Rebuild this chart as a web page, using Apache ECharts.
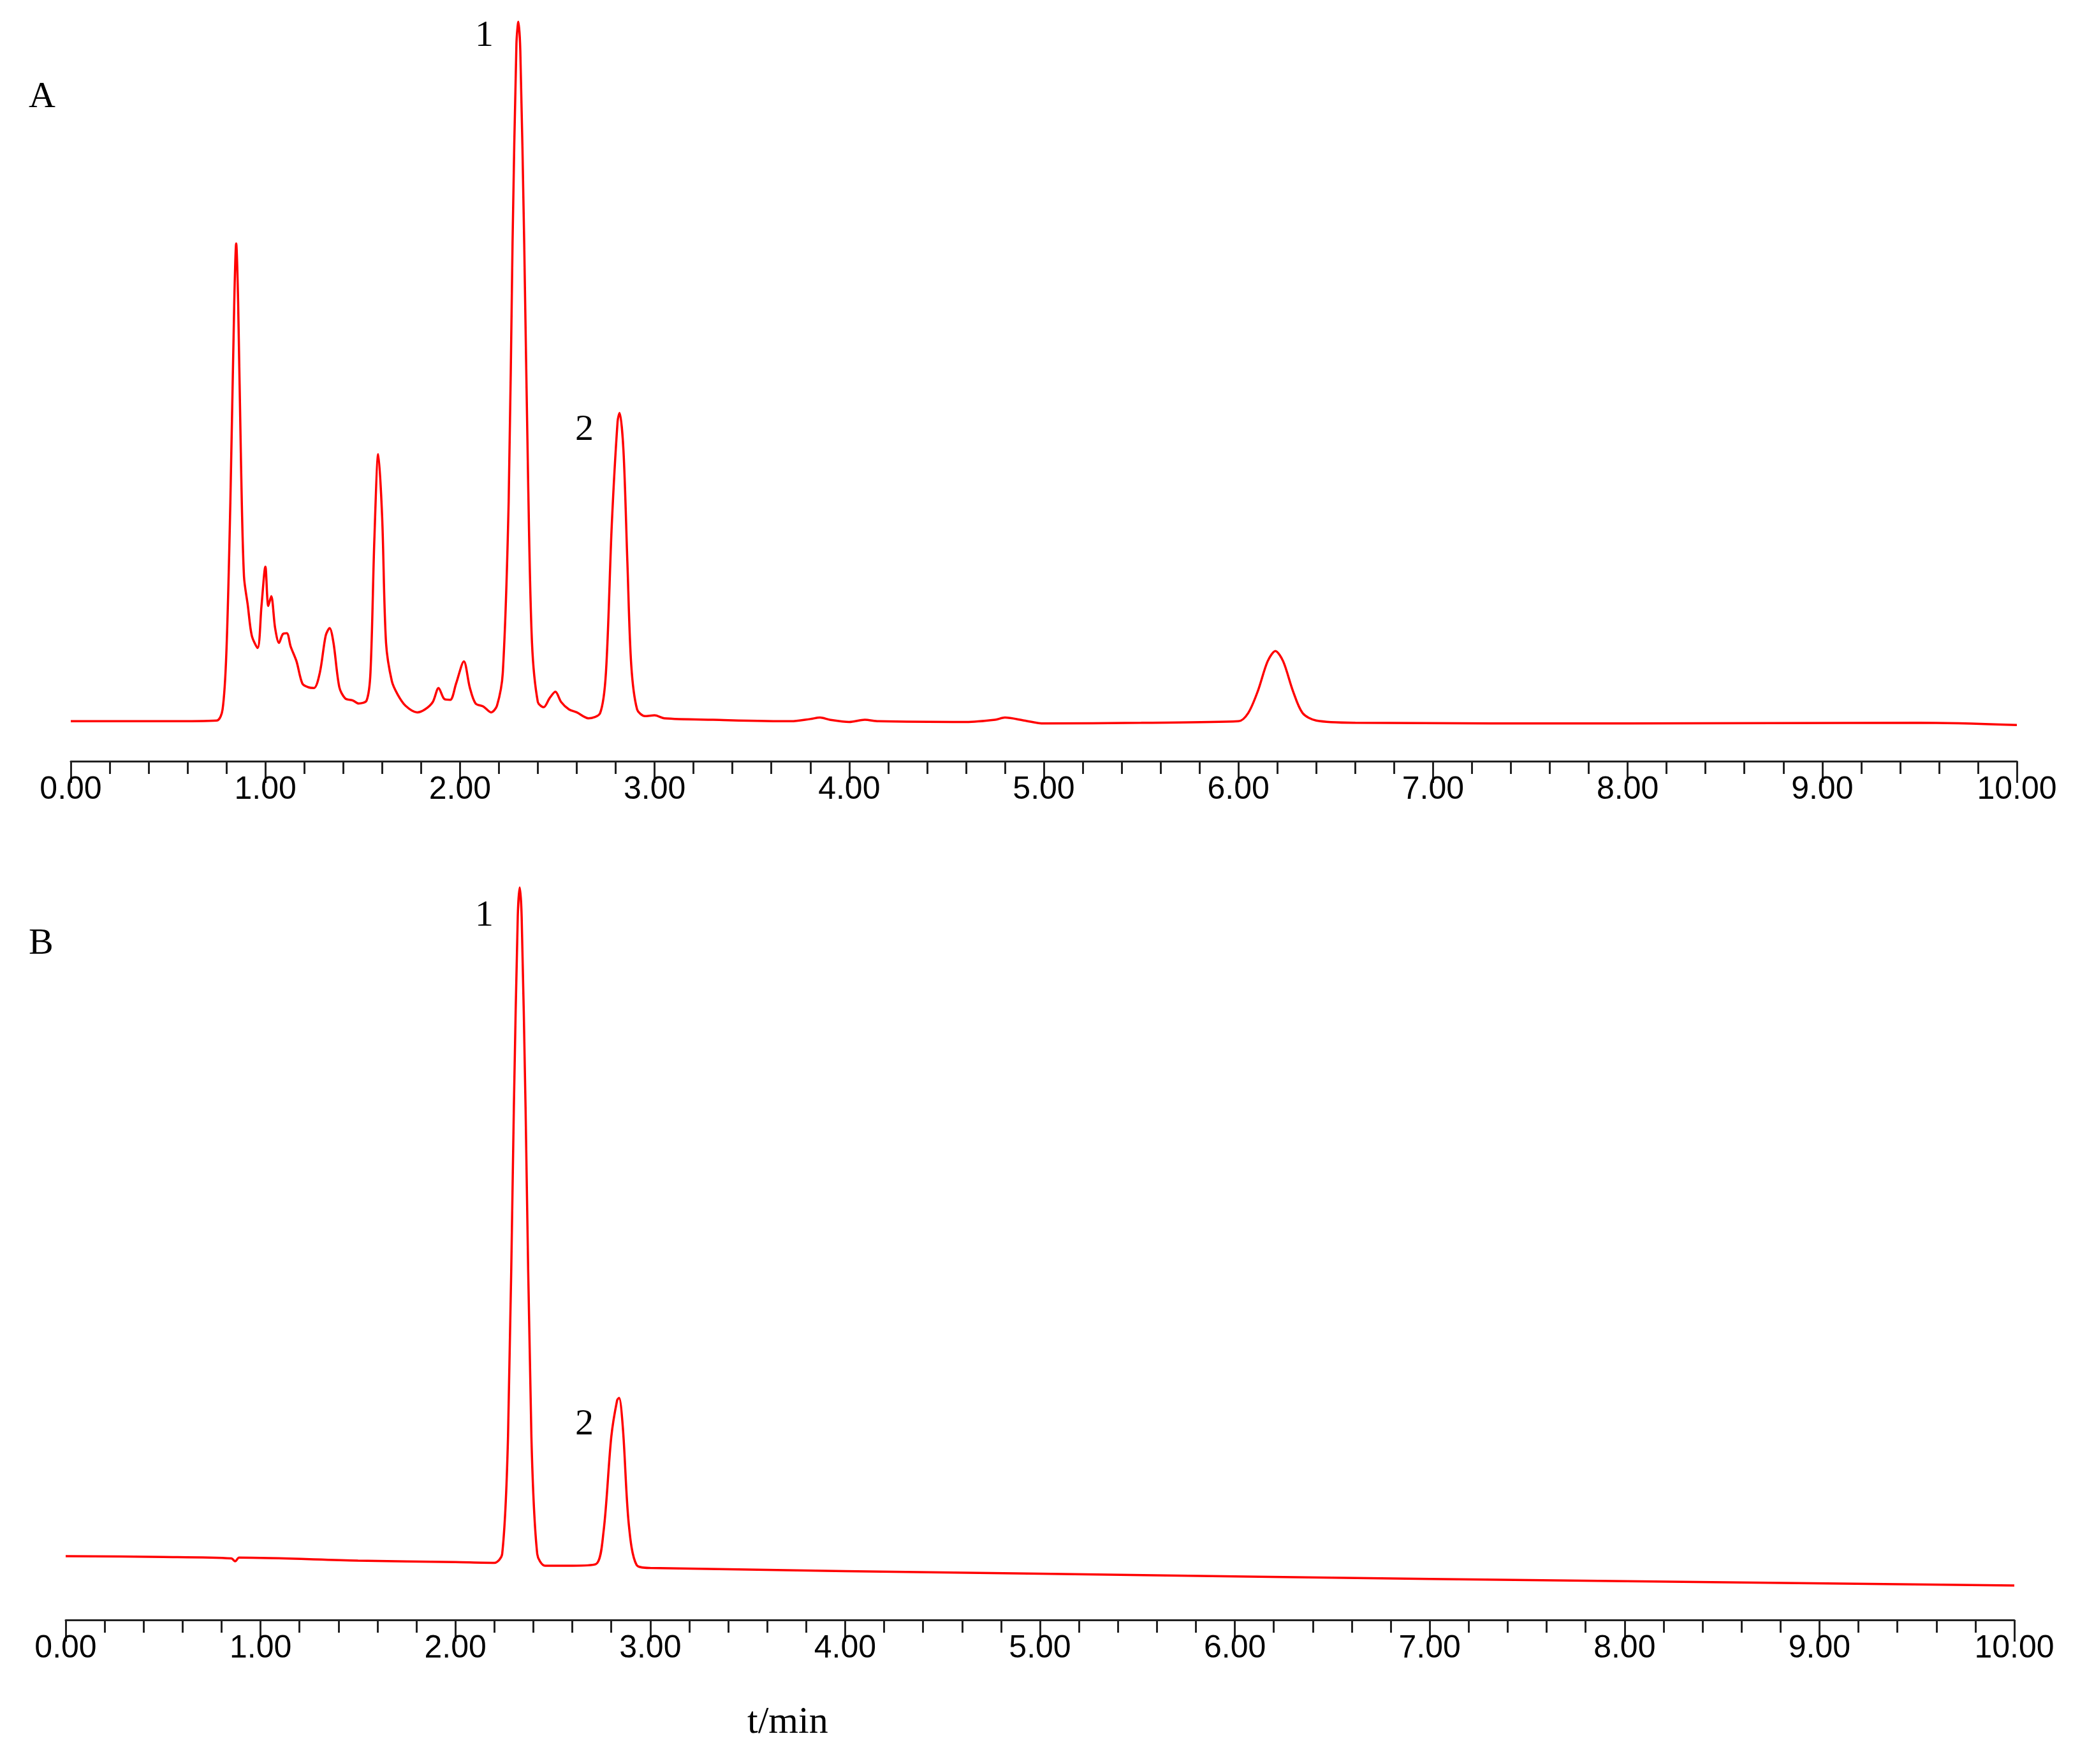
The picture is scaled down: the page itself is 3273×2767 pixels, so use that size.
<!DOCTYPE html>
<html>
<head>
<meta charset="utf-8">
<script src="https://cdn.jsdelivr.net/npm/echarts@6/dist/echarts.min.js"></script>
<style>html,body{margin:0;background:#fff}#chart{width:3273px;height:2767px}</style>
</head>
<body>
<div id="chart"></div>
<script>
// chromatogram A (sample): [time min, signal]
const traceA = [
  [0.00,5.4],[0.50,5.4],[0.75,5.5],[0.78,7],[0.80,15],[0.82,35],[0.84,62],[0.85,70],[0.86,62],[0.875,40],
  [0.89,25],[0.91,21],[0.93,17],[0.96,15.3],[0.98,21],[1.00,26.3],[1.015,21],[1.03,22.3],[1.05,18],[1.07,16],
  [1.09,17.2],[1.11,17.3],[1.13,15.5],[1.16,13.5],[1.19,10.5],[1.22,10],[1.25,9.9],[1.28,12],[1.31,17],[1.33,18],
  [1.35,16],[1.38,10],[1.41,8.5],[1.45,8.2],[1.48,7.8],[1.52,8.2],[1.54,12],[1.56,30],[1.58,41.5],[1.60,33],
  [1.62,16],[1.65,10.8],[1.68,9],[1.72,7.5],[1.78,6.6],[1.82,7],[1.86,8],[1.89,9.9],[1.92,8.4],[1.95,8.3],
  [1.98,10.5],[2.02,13.5],[2.05,10],[2.08,7.8],[2.12,7.4],[2.16,6.6],[2.19,7.5],[2.22,12],[2.25,35],[2.27,70],
  [2.29,97],[2.30,100],[2.31,96],[2.33,70],[2.35,38],[2.37,16],[2.40,8],[2.43,7.3],[2.46,8.5],[2.49,9.4],
  [2.52,8],[2.56,7],[2.60,6.6],[2.66,5.8],[2.72,6.5],[2.75,12],[2.78,32],[2.81,46],[2.82,47.1],[2.84,42],
  [2.86,27],[2.88,13],[2.91,7],[2.95,6.1],[3.00,6.2],[3.05,5.8],[3.30,5.6],[3.70,5.4],[3.80,5.7],[3.85,5.9],
  [3.90,5.6],[4.00,5.3],[4.08,5.6],[4.15,5.4],[4.60,5.3],[4.75,5.6],[4.80,5.9],[4.90,5.5],[5.00,5.1],[5.50,5.2],
  [6.00,5.4],[6.05,6.5],[6.10,9.5],[6.15,13.5],[6.19,14.9],[6.23,13.5],[6.28,9.5],[6.33,6.5],[6.40,5.5],[6.60,5.2],
  [8.00,5.1],[9.50,5.2],[10.00,4.9]
];
// chromatogram B (reference standards)
const traceB = [
  [0.00,8.7],[0.50,8.6],[0.85,8.4],[0.87,8.0],[0.89,8.5],[1.50,8.1],[2.00,7.9],[2.20,7.8],[2.24,9],[2.27,25],
  [2.30,70],[2.32,96],[2.33,100],[2.34,96],[2.36,70],[2.39,25],[2.42,9],[2.46,7.4],[2.60,7.4],[2.72,7.6],
  [2.76,12],[2.80,25],[2.83,30],[2.84,30.3],[2.86,26],[2.89,13],[2.93,7.5],[3.00,7.1],[5.00,6.3],[7.00,5.6],
  [10.00,4.7]
];

const chart = echarts.init(document.getElementById('chart'));
const serif = '"Liberation Serif", "DejaVu Serif", serif';
const xAxisBase = (gridIndex) => ({
  type: 'value', gridIndex, min: 0, max: 10, interval: 1,
  axisLine: { lineStyle: { color: '#222', width: 3 } },
  axisTick: { length: 34, lineStyle: { color: '#222', width: 3 } },
  minorTick: { show: true, splitNumber: 5, length: 20, lineStyle: { color: '#222', width: 3 } },
  splitLine: { show: false },
  axisLabel: { formatter: v => v.toFixed(2), fontSize: 50, color: '#000', margin: 20,
    fontFamily: '"Liberation Sans", Arial, sans-serif' }
});
const yAxisBase = (gridIndex) => ({ type: 'value', gridIndex, min: 0, max: 100, show: false });
const lineStyle = { color: '#ff0000', width: 3.5 };

chart.setOption({
  animation: false,
  grid: [
    { left: 111, width: 3052, top: 34, height: 1160 },
    { left: 103, width: 3056, top: 1392, height: 1149 }
  ],
  xAxis: [xAxisBase(0), xAxisBase(1)],
  yAxis: [yAxisBase(0), yAxisBase(1)],
  series: [
    { type: 'line', xAxisIndex: 0, yAxisIndex: 0, data: traceA, showSymbol: false, smooth: 0.3, lineStyle },
    { type: 'line', xAxisIndex: 1, yAxisIndex: 1, data: traceB, showSymbol: false, smooth: 0.3, lineStyle }
  ],
  graphic: [
    { type: 'text', left: 45, top: 124, style: { text: 'A', font: '58px ' + serif, fill: '#000' } },
    { type: 'text', left: 45, top: 1452, style: { text: 'B', font: '58px ' + serif, fill: '#000' } },
    { type: 'text', left: 745, top: 28, style: { text: '1', font: '58px ' + serif, fill: '#000' } },
    { type: 'text', left: 902, top: 646, style: { text: '2', font: '58px ' + serif, fill: '#000' } },
    { type: 'text', left: 745, top: 1408, style: { text: '1', font: '58px ' + serif, fill: '#000' } },
    { type: 'text', left: 902, top: 2206, style: { text: '2', font: '58px ' + serif, fill: '#000' } },
    { type: 'text', left: 1172, top: 2672, style: { text: 't/min', font: '60px ' + serif, fill: '#000' } }
  ]
});
</script>
</body>
</html>
